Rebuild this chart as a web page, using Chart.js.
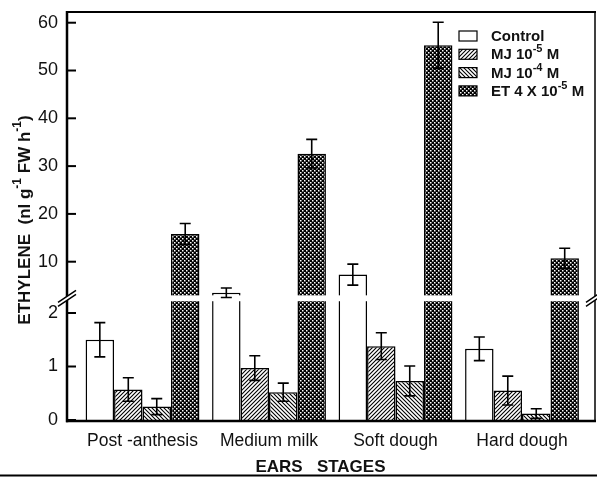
<!DOCTYPE html>
<html>
<head>
<meta charset="utf-8">
<script src="https://cdn.jsdelivr.net/npm/chart.js@4.4.0/dist/chart.umd.min.js"></script>
<style>
  html, body { margin: 0; padding: 0; background: #fff; }
</style>
</head>
<body>
<canvas id="chart" width="597" height="477"></canvas>
<script>
// ---------- data ----------
const stages = ["Post -anthesis", "Medium milk", "Soft dough", "Hard dough"];
const control    = [1.50, 3.5, 7.3, 1.33];
const controlErr = [0.32, 1.0, 2.2, 0.22];
const mj5        = [0.57, 0.97, 1.38, 0.55];
const mj5Err     = [0.22, 0.23, 0.25, 0.27];
const mj4        = [0.25, 0.52, 0.73, 0.12];
const mj4Err     = [0.15, 0.17, 0.28, 0.09];
const et         = [15.8, 32.6, 55.3, 10.7];
const etErr      = [2.2, 3.0, 4.8, 2.1];
const lowTicks  = [0, 1, 2];
const highTicks = [10, 20, 30, 40, 50, 60];

// broken axis: 0-2 on the bottom part, 2-62 squeezed on top
const BREAK = 2, UP0 = 2.244, UPK = 0.08934;
function fold(v){ return v <= BREAK ? v : UP0 + (v - BREAK) * UPK; }

const FONT = "'Liberation Sans', Arial, sans-serif";
const INK = "#111";

// ---------- fill patterns ----------
function tile(draw){
  const c = document.createElement("canvas");
  c.width = 4; c.height = 4;
  const g = c.getContext("2d");
  draw(g);
  return g.createPattern(c, "repeat");
}
const patUp = tile(g => {
  g.fillStyle = "#fff"; g.fillRect(0,0,4,4);
  g.strokeStyle = "#000"; g.lineWidth = 1.1;
  g.beginPath();
  g.moveTo(0,4); g.lineTo(4,0);
  g.moveTo(-1,1); g.lineTo(1,-1);
  g.moveTo(3,5); g.lineTo(5,3);
  g.stroke();
});
const patDown = tile(g => {
  g.fillStyle = "#fff"; g.fillRect(0,0,4,4);
  g.strokeStyle = "#000"; g.lineWidth = 1.1;
  g.beginPath();
  g.moveTo(0,0); g.lineTo(4,4);
  g.moveTo(3,-1); g.lineTo(5,1);
  g.moveTo(-1,3); g.lineTo(1,5);
  g.stroke();
});
const patCross = tile(g => {
  g.fillStyle = "#000"; g.fillRect(0,0,4,4);
  g.fillStyle = "#fff";
  g.fillRect(0,0,1.5,1.5);
  g.fillRect(2,2,1.5,1.5);
});

function series(label, vals, errs, fill){
  return {
    label,
    data: vals.map((v,i) => ({ x: i, y: fold(v) })),
    raw: vals, err: errs,
    backgroundColor: fill,
    borderColor: "#000",
    borderWidth: 1.5,
    categoryPercentage: 0.9,
    barPercentage: 1.0
  };
}

const legendParts = [
  [["Control", 0]],
  [["MJ 10", 0], ["-5", 1], [" M", 0]],
  [["MJ 10", 0], ["-4", 1], [" M", 0]],
  [["ET 4 X 10", 0], ["-5", 1], [" M", 0]]
];

function drawParts(ctx, parts, x, y, size, supSize, rise){
  let cx = x;
  parts.forEach(([t, sup]) => {
    ctx.font = "bold " + (sup ? supSize : size) + "px " + FONT;
    ctx.fillText(t, cx, sup ? y - rise : y);
    cx += ctx.measureText(t).width;
  });
  return cx - x;
}
function partsWidth(ctx, parts, size, supSize){
  let w = 0;
  parts.forEach(([t, sup]) => {
    ctx.font = "bold " + (sup ? supSize : size) + "px " + FONT;
    w += ctx.measureText(t).width;
  });
  return w;
}

// ---------- decorations: gap, error bars, frame, legend, titles ----------
const decor = {
  id: "decor",
  afterDatasetsDraw(chart){
    const ctx = chart.ctx;
    const a = chart.chartArea;
    const ys = chart.scales.y;
    ctx.save();

    // white gap across the bars at the axis break
    const gTop = ys.getPixelForValue(2.33), gBot = ys.getPixelForValue(2.22);
    ctx.fillStyle = "#fff";
    ctx.fillRect(a.left + 2, gTop, a.right - a.left - 4, gBot - gTop);

    // error bars
    ctx.strokeStyle = "#000";
    ctx.lineWidth = 1.6;
    chart.data.datasets.forEach((ds, di) => {
      chart.getDatasetMeta(di).data.forEach((el, i) => {
        const v = ds.raw[i], e = ds.err[i];
        const hi = ys.getPixelForValue(fold(v + e));
        const lo = ys.getPixelForValue(fold(Math.max(v - e, 0)));
        ctx.beginPath();
        ctx.moveTo(el.x, hi); ctx.lineTo(el.x, lo);
        ctx.moveTo(el.x - 5.5, hi); ctx.lineTo(el.x + 5.5, hi);
        ctx.moveTo(el.x - 5.5, lo); ctx.lineTo(el.x + 5.5, lo);
        ctx.stroke();
      });
    });

    // frame
    ctx.lineCap = "butt";
    ctx.lineWidth = 2;
    ctx.beginPath(); ctx.moveTo(a.left - 1, a.top); ctx.lineTo(a.right + 1, a.top); ctx.stroke();
    ctx.lineWidth = 1.5;
    ctx.beginPath(); ctx.moveTo(a.right, a.top); ctx.lineTo(a.right, a.bottom + 1); ctx.stroke();
    ctx.lineWidth = 2.5;
    ctx.beginPath(); ctx.moveTo(a.left, a.top - 1); ctx.lineTo(a.left, a.bottom + 2.2); ctx.stroke();
    ctx.beginPath(); ctx.moveTo(a.left - 1, a.bottom + 1); ctx.lineTo(a.right + 1, a.bottom + 1); ctx.stroke();

    // inward tick marks
    ctx.lineWidth = 2;
    ys.ticks.forEach(t => {
      const p = ys.getPixelForValue(t.value);
      ctx.beginPath(); ctx.moveTo(a.left, p); ctx.lineTo(a.left + 9, p); ctx.stroke();
    });

    // break marks on both vertical axes
    const bm = ys.getPixelForValue(2.275);
    [a.left, a.right].forEach(x => {
      ctx.fillStyle = "#fff";
      ctx.beginPath();
      ctx.moveTo(x - 9, bm + 4); ctx.lineTo(x + 9, bm - 8);
      ctx.lineTo(x + 9, bm - 4); ctx.lineTo(x - 9, bm + 8);
      ctx.closePath(); ctx.fill();
      ctx.lineWidth = 1.5;
      ctx.beginPath();
      ctx.moveTo(x - 9, bm + 4); ctx.lineTo(x + 9, bm - 8);
      ctx.moveTo(x - 9, bm + 8); ctx.lineTo(x + 9, bm - 4);
      ctx.stroke();
    });

    // legend
    ctx.textBaseline = "middle";
    ctx.textAlign = "left";
    chart.data.datasets.forEach((ds, i) => {
      const cy = 36 + i * 18.3;
      ctx.fillStyle = ds.backgroundColor;
      ctx.fillRect(459, cy - 5, 18, 10);
      ctx.lineWidth = 1.2; ctx.strokeStyle = "#000";
      ctx.strokeRect(459, cy - 5, 18, 10);
      ctx.fillStyle = INK;
      drawParts(ctx, legendParts[i], 491, cy + 1, 15, 11, 6);
    });

    // y axis title
    const yTitle = [["ETHYLENE  (nl g", 0], ["-1", 1], [" FW h", 0], ["-1", 1], [")", 0]];
    ctx.save();
    ctx.translate(25, 220);
    ctx.rotate(-Math.PI / 2);
    ctx.fillStyle = INK;
    const w = partsWidth(ctx, yTitle, 17, 12);
    drawParts(ctx, yTitle, -w / 2, 0, 17, 12, 7);
    ctx.restore();

    // x axis title and page rule
    ctx.fillStyle = INK;
    ctx.textAlign = "center";
    ctx.font = "bold 17px " + FONT;
    ctx.fillText("EARS   STAGES", 320.5, 467);
    ctx.lineWidth = 2;
    ctx.beginPath(); ctx.moveTo(0, 475.5); ctx.lineTo(597, 475.5); ctx.stroke();

    ctx.restore();
  }
};

new Chart(document.getElementById("chart"), {
  type: "bar",
  data: {
    datasets: [
      series("Control", control, controlErr, "#fff"),
      series("MJ 10-5 M", mj5, mj5Err, patUp),
      series("MJ 10-4 M", mj4, mj4Err, patDown),
      series("ET 4 X 10-5 M", et, etErr, patCross)
    ]
  },
  options: {
    responsive: false,
    animation: false,
    layout: { padding: { top: 12, right: 2, left: 0, bottom: 0 } },
    plugins: { legend: { display: false }, tooltip: { enabled: false } },
    scales: {
      x: {
        type: "linear", min: -0.597, max: 3.577, offset: false,
        grid: { display: false, drawTicks: false },
        border: { display: false },
        afterBuildTicks: s => { s.ticks = stages.map((_, i) => ({ value: i })); },
        ticks: {
          callback: v => stages[v] ?? "",
          font: { family: FONT, size: 17.5 }, color: INK,
          padding: 11, maxRotation: 0, autoSkip: false
        },
        afterFit: s => { s.height = 57; s.paddingLeft = 0; s.paddingRight = 0; }
      },
      y: {
        min: 0, max: 7.626,
        grid: { display: false, drawTicks: false },
        border: { display: false },
        afterBuildTicks: s => { s.ticks = lowTicks.concat(highTicks).map(v => ({ value: fold(v) })); },
        ticks: {
          callback: (v, i) => lowTicks.concat(highTicks)[i],
          font: { family: FONT, size: 18 }, color: INK,
          padding: 9, autoSkip: false
        },
        afterFit: s => { s.width = 67; s.paddingTop = 0; s.paddingBottom = 0; }
      }
    }
  },
  plugins: [decor]
});
</script>
</body>
</html>
